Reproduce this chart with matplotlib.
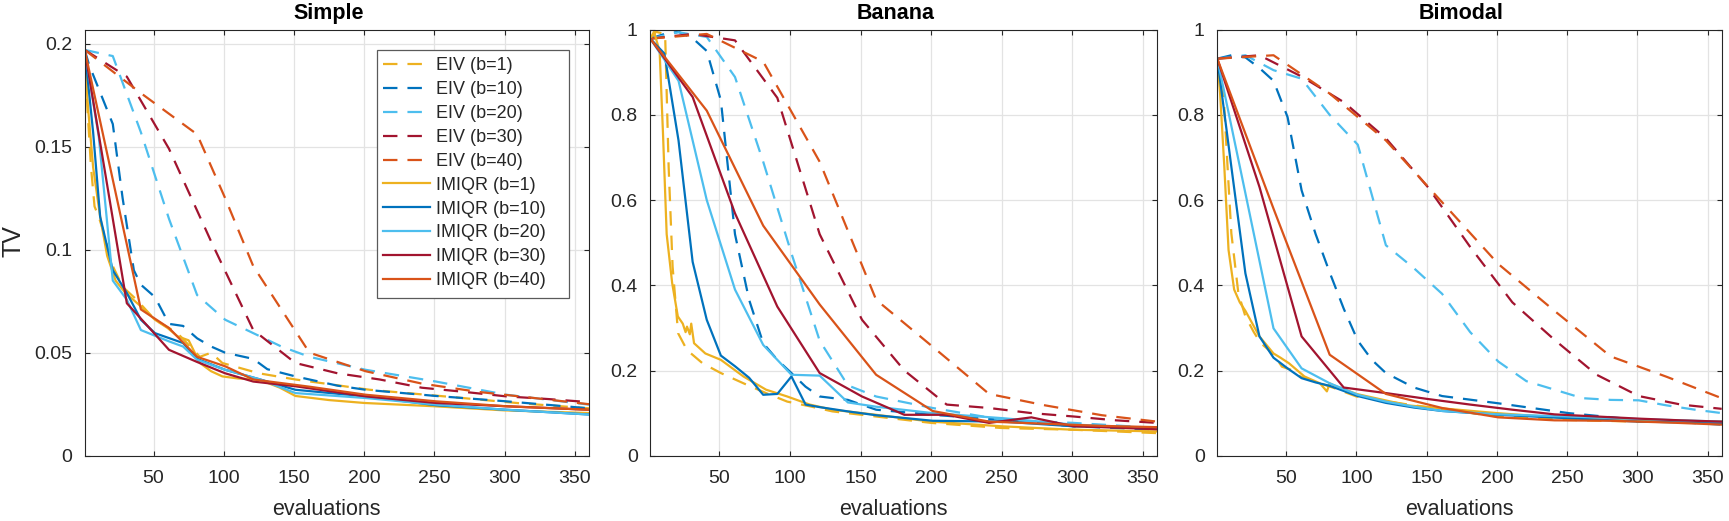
import matplotlib
matplotlib.use('Agg')
import matplotlib.pyplot as plt
from matplotlib.patches import Rectangle

plt.rcParams['font.family'] = ['Liberation Sans', 'DejaVu Sans']

# ---------------- data ----------------
titles = ['Simple', 'Banana', 'Bimodal']
labels = ['EIV (b=1)', 'EIV (b=10)', 'EIV (b=20)', 'EIV (b=30)', 'EIV (b=40)',
          'IMIQR (b=1)', 'IMIQR (b=10)', 'IMIQR (b=20)', 'IMIQR (b=30)', 'IMIQR (b=40)']
x_ticks = [50, 100, 150, 200, 250, 300, 350]
y_ticks_simple = [0, 0.05, 0.1, 0.15, 0.2]
y_ticks_other = [0, 0.2, 0.4, 0.6, 0.8, 1]

# Simple
s_eiv1_x = [1, 3, 5.5, 8, 11, 14.7, 20, 28, 38, 51, 67, 83, 91, 99, 125, 151, 204, 257, 310, 360]
s_eiv1_y = [0.197, 0.168, 0.14, 0.121, 0.116, 0.108, 0.0935, 0.082, 0.0757, 0.066, 0.0595, 0.048, 0.050, 0.045, 0.040, 0.037, 0.032, 0.0288, 0.0255, 0.023]
s_eiv10_x = [1, 4, 21, 28, 36, 41, 51, 61, 71, 81, 91, 101, 121, 131, 151, 181, 201, 251, 301, 360]
s_eiv10_y = [0.197, 0.19, 0.161, 0.125, 0.09, 0.083, 0.077, 0.064, 0.063, 0.057, 0.053, 0.050, 0.047, 0.042, 0.0385, 0.034, 0.032, 0.029, 0.0264, 0.023]
s_eiv20_x = [1, 21, 41, 61, 81, 101, 121, 141, 161, 201, 251, 301, 360]
s_eiv20_y = [0.197, 0.194, 0.157, 0.115, 0.078, 0.066, 0.0595, 0.053, 0.048, 0.0417, 0.036, 0.0296, 0.0248]
s_eiv30_x = [1, 31, 61, 91, 121, 151, 181, 211, 241, 271, 301, 331, 360]
s_eiv30_y = [0.197, 0.184, 0.149, 0.104, 0.061, 0.045, 0.040, 0.037, 0.033, 0.031, 0.0288, 0.0275, 0.026]
s_eiv40_x = [1, 41, 81, 101, 121, 161, 201, 241, 281, 321, 360]
s_eiv40_y = [0.197, 0.176, 0.156, 0.125, 0.092, 0.050, 0.041, 0.035, 0.031, 0.028, 0.025]
s_imi1_x = [1, 3, 7, 12, 17, 23, 30, 41, 51, 60, 67, 75, 83, 91, 99, 110, 125, 140, 151, 175, 200, 250, 300, 360]
s_imi1_y = [0.197, 0.172, 0.14, 0.116, 0.097, 0.085, 0.079, 0.0725, 0.066, 0.062, 0.058, 0.056, 0.045, 0.041, 0.0385, 0.0375, 0.037, 0.033, 0.029, 0.027, 0.0256, 0.024, 0.022, 0.0207]
s_imi10_x = [1, 7, 12, 21, 31, 41, 51, 71, 81, 101, 126, 151, 201, 251, 301, 360]
s_imi10_y = [0.197, 0.157, 0.116, 0.09, 0.079, 0.066, 0.0595, 0.0547, 0.047, 0.0417, 0.037, 0.032, 0.0288, 0.0245, 0.0223, 0.020]
s_imi20_x = [1, 11, 21, 31, 41, 61, 71, 81, 101, 126, 151, 201, 251, 301, 360]
s_imi20_y = [0.197, 0.155, 0.085, 0.0757, 0.061, 0.0555, 0.053, 0.0466, 0.0417, 0.037, 0.0304, 0.028, 0.0248, 0.0223, 0.020]
s_imi30_x = [1, 31, 46, 61, 81, 101, 121, 151, 201, 251, 301, 360]
s_imi30_y = [0.197, 0.074, 0.0628, 0.0514, 0.0455, 0.040, 0.036, 0.0337, 0.0288, 0.0256, 0.024, 0.0223]
s_imi40_x = [1, 41, 61, 81, 101, 121, 161, 201, 251, 301, 360]
s_imi40_y = [0.197, 0.071, 0.062, 0.048, 0.0434, 0.037, 0.0335, 0.0296, 0.0264, 0.024, 0.0223]

# Banana
b_eiv1_x = [1, 5, 11.5, 14, 16.8, 20.7, 27, 38, 51, 67, 83, 98, 114, 130, 161, 200, 250, 300, 360]
b_eiv1_y = [0.979, 0.995, 0.99, 0.678, 0.444, 0.2875, 0.248, 0.217, 0.194, 0.17, 0.147, 0.127, 0.116, 0.104, 0.092, 0.077, 0.065, 0.061, 0.053]
b_eiv10_x = [1, 11, 21, 31, 41, 51, 61, 71, 81, 91, 101, 111, 121, 141, 161, 201, 251, 301, 360]
b_eiv10_y = [0.979, 0.99, 0.995, 0.98, 0.95, 0.834, 0.52, 0.366, 0.264, 0.225, 0.194, 0.162, 0.139, 0.131, 0.108, 0.096, 0.084, 0.069, 0.061]
b_eiv20_x = [1, 21, 41, 61, 81, 101, 121, 141, 161, 201, 251, 301, 360]
b_eiv20_y = [0.979, 0.994, 0.983, 0.889, 0.69, 0.475, 0.27, 0.165, 0.139, 0.112, 0.084, 0.077, 0.065]
b_eiv30_x = [1, 31, 61, 91, 121, 151, 181, 211, 241, 271, 301, 331, 360]
b_eiv30_y = [0.979, 0.99, 0.975, 0.84, 0.52, 0.319, 0.2, 0.12, 0.112, 0.1, 0.092, 0.083, 0.077]
b_eiv40_x = [1, 41, 81, 121, 161, 201, 241, 281, 321, 360]
b_eiv40_y = [0.979, 0.99, 0.925, 0.69, 0.366, 0.256, 0.145, 0.118, 0.095, 0.08]
b_imi1_x = [1, 3.6, 7.6, 10, 12.6, 16.5, 20.5, 24, 26, 27, 29, 30, 32, 40, 51, 67, 83, 98, 114, 130, 161, 200, 250, 300, 360]
b_imi1_y = [0.979, 0.995, 0.95, 0.756, 0.52, 0.405, 0.327, 0.31, 0.29, 0.303, 0.285, 0.31, 0.264, 0.24, 0.225, 0.186, 0.155, 0.139, 0.12, 0.108, 0.096, 0.08, 0.069, 0.061, 0.057]
b_imi10_x = [1, 11, 21, 31, 41, 51, 61, 71, 81, 91, 101, 111, 121, 141, 161, 201, 251, 301, 360]
b_imi10_y = [0.979, 0.944, 0.74, 0.455, 0.319, 0.235, 0.21, 0.183, 0.143, 0.145, 0.186, 0.12, 0.114, 0.104, 0.095, 0.082, 0.08, 0.069, 0.065]
b_imi20_x = [1, 21, 41, 61, 81, 101, 121, 141, 161, 201, 251, 301, 360]
b_imi20_y = [0.979, 0.88, 0.6, 0.39, 0.26, 0.19, 0.188, 0.125, 0.115, 0.1, 0.088, 0.073, 0.065]
b_imi30_x = [1, 31, 61, 91, 121, 151, 181, 211, 241, 271, 301, 331, 360]
b_imi30_y = [0.979, 0.842, 0.569, 0.35, 0.194, 0.139, 0.096, 0.096, 0.077, 0.09, 0.069, 0.066, 0.062]
b_imi40_x = [1, 41, 81, 121, 161, 201, 241, 281, 321, 360]
b_imi40_y = [0.979, 0.81, 0.54, 0.355, 0.19, 0.105, 0.08, 0.075, 0.07, 0.067]

# Bimodal
m_eiv1_x = [1, 3, 5.7, 8.3, 11, 16, 21, 27, 32, 37, 42, 47, 55, 60, 74, 84, 100, 137, 200, 250, 300, 360]
m_eiv1_y = [0.932, 0.9, 0.834, 0.678, 0.522, 0.381, 0.327, 0.29, 0.264, 0.25, 0.233, 0.209, 0.2, 0.186, 0.17, 0.159, 0.139, 0.12, 0.092, 0.084, 0.08, 0.077]
m_eiv10_x = [1, 11, 21, 31, 41, 51, 61, 71, 81, 91, 101, 111, 121, 141, 161, 201, 251, 301, 360]
m_eiv10_y = [0.932, 0.94, 0.935, 0.91, 0.88, 0.795, 0.623, 0.52, 0.43, 0.345, 0.27, 0.225, 0.194, 0.16, 0.14, 0.123, 0.1, 0.084, 0.073]
m_eiv20_x = [1, 21, 41, 61, 81, 101, 121, 141, 161, 181, 201, 221, 241, 261, 281, 301, 321, 341, 360]
m_eiv20_y = [0.932, 0.94, 0.905, 0.885, 0.8, 0.73, 0.494, 0.44, 0.38, 0.29, 0.221, 0.175, 0.155, 0.135, 0.131, 0.13, 0.118, 0.108, 0.1]
m_eiv30_x = [1, 31, 61, 91, 121, 151, 181, 211, 241, 271, 301, 331, 360]
m_eiv30_y = [0.932, 0.94, 0.89, 0.83, 0.745, 0.63, 0.49, 0.36, 0.272, 0.19, 0.14, 0.12, 0.11]
m_eiv40_x = [1, 41, 81, 121, 161, 201, 241, 281, 321, 360]
m_eiv40_y = [0.932, 0.94, 0.85, 0.74, 0.595, 0.45, 0.34, 0.233, 0.185, 0.135]
m_imi1_x = [1, 3, 6, 9, 13, 17, 21, 26, 31, 36, 41, 46, 52, 63, 74, 79, 81, 84, 100, 137, 200, 250, 300, 360]
m_imi1_y = [0.932, 0.85, 0.678, 0.483, 0.39, 0.36, 0.34, 0.31, 0.28, 0.26, 0.24, 0.23, 0.217, 0.186, 0.17, 0.151, 0.17, 0.165, 0.145, 0.118, 0.1, 0.088, 0.084, 0.08]
m_imi10_x = [1, 11, 21, 31, 41, 51, 61, 71, 81, 101, 121, 141, 161, 201, 251, 301, 360]
m_imi10_y = [0.932, 0.678, 0.428, 0.28, 0.23, 0.205, 0.182, 0.172, 0.164, 0.14, 0.124, 0.113, 0.105, 0.096, 0.088, 0.08, 0.077]
m_imi20_x = [1, 21, 41, 61, 81, 101, 121, 141, 161, 201, 251, 301, 360]
m_imi20_y = [0.932, 0.616, 0.299, 0.205, 0.17, 0.143, 0.127, 0.115, 0.105, 0.097, 0.092, 0.086, 0.08]
m_imi30_x = [1, 31, 61, 91, 121, 151, 181, 211, 241, 271, 301, 331, 360]
m_imi30_y = [0.932, 0.631, 0.28, 0.16, 0.147, 0.133, 0.12, 0.108, 0.097, 0.092, 0.087, 0.083, 0.08]
m_imi40_x = [1, 41, 81, 121, 161, 201, 241, 281, 321, 360]
m_imi40_y = [0.932, 0.58, 0.237, 0.145, 0.112, 0.09, 0.083, 0.082, 0.078, 0.073]

panels = [
    [(s_eiv1_x, s_eiv1_y), (s_eiv10_x, s_eiv10_y), (s_eiv20_x, s_eiv20_y), (s_eiv30_x, s_eiv30_y), (s_eiv40_x, s_eiv40_y),
     (s_imi1_x, s_imi1_y), (s_imi10_x, s_imi10_y), (s_imi20_x, s_imi20_y), (s_imi30_x, s_imi30_y), (s_imi40_x, s_imi40_y)],
    [(b_eiv1_x, b_eiv1_y), (b_eiv10_x, b_eiv10_y), (b_eiv20_x, b_eiv20_y), (b_eiv30_x, b_eiv30_y), (b_eiv40_x, b_eiv40_y),
     (b_imi1_x, b_imi1_y), (b_imi10_x, b_imi10_y), (b_imi20_x, b_imi20_y), (b_imi30_x, b_imi30_y), (b_imi40_x, b_imi40_y)],
    [(m_eiv1_x, m_eiv1_y), (m_eiv10_x, m_eiv10_y), (m_eiv20_x, m_eiv20_y), (m_eiv30_x, m_eiv30_y), (m_eiv40_x, m_eiv40_y),
     (m_imi1_x, m_imi1_y), (m_imi10_x, m_imi10_y), (m_imi20_x, m_imi20_y), (m_imi30_x, m_imi30_y), (m_imi40_x, m_imi40_y)],
]

# ---------------- style ----------------
colors = ['#EDB120', '#0072BD', '#4DBEEE', '#A2142F', '#D95319'] * 2
styles = [(0, (6.5, 4.5))] * 5 + ['-'] * 5
ylims = [0.2068, 1.0, 1.0]
yticks = [y_ticks_simple, y_ticks_other, y_ticks_other]
yticklabels = [['0', '0.05', '0.1', '0.15', '0.2'], ['0', '0.2', '0.4', '0.6', '0.8', '1'],
               ['0', '0.2', '0.4', '0.6', '0.8', '1']]

W, H = 1729, 521
fig = plt.figure(figsize=(W / 100, H / 100), dpi=100)
lefts = [84.7, 650.3, 1217.3]
rights = [589, 1157, 1721.7]
top, bottom = 29.7, 455.7
axc = '#262626'

for i in range(3):
    ax = fig.add_axes([lefts[i] / W, 1 - bottom / H, (rights[i] - lefts[i]) / W, (bottom - top) / H])
    for k, (xs, ys) in enumerate(panels[i]):
        ax.plot(xs, ys, color=colors[k], linestyle=styles[k], linewidth=1.6, label=labels[k],
                solid_joinstyle='round', dash_joinstyle='round', dash_capstyle='butt')
    ax.set_xlim(1, 360)
    ax.set_ylim(0, ylims[i])
    ax.set_xticks(x_ticks)
    ax.set_yticks(yticks[i])
    ax.set_yticklabels(yticklabels[i])
    ax.grid(True, color='#e3e3e3', linewidth=0.9)
    ax.set_axisbelow(True)
    for sp in ax.spines.values():
        sp.set_color(axc)
        sp.set_linewidth(0.8)
    ax.tick_params(direction='in', length=3.6, width=0.8, color=axc, labelcolor=axc,
                   labelsize=14, top=True, right=True)
    ax.tick_params(axis='x', pad=10)
    ax.tick_params(axis='y', pad=9)
    ax.set_xlabel('evaluations', fontsize=15.5, color=axc)
    ax.xaxis.set_label_coords(0.479, -0.1007)
    ax.xaxis.label.set_verticalalignment('top')
    ax.set_title(titles[i], fontsize=15.5, fontweight='bold', pad=7.7, x=0.4836)
    if i == 0:
        ax.set_ylabel('TV', fontsize=18, color=axc)
        ax.yaxis.set_label_coords(-0.1164, 0.5045)
        leg = ax.legend(loc='upper left', bbox_to_anchor=(0.592, 0.935), fontsize=13,
                        handlelength=2.6, labelspacing=0.38, borderpad=0.0, borderaxespad=0.0,
                        handletextpad=0.32, frameon=False)
        leg.set_zorder(6)
        for t in leg.get_texts():
            t.set_color(axc)
        ax.add_patch(Rectangle((0.579, 0.3709), 0.3813, 0.5815, transform=ax.transAxes,
                               facecolor='white', edgecolor='#5a5a5a', linewidth=0.9, zorder=5))

fig.savefig('out.png', dpi=100)
